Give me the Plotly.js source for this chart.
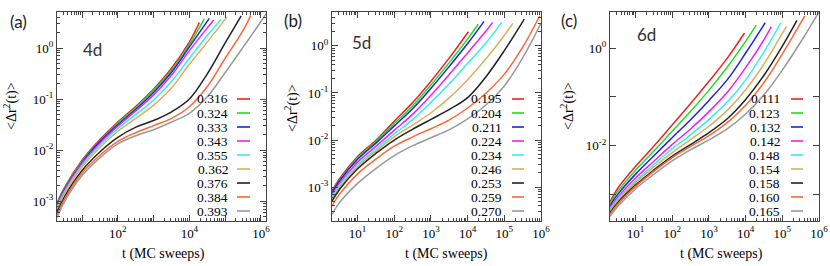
<!DOCTYPE html>
<html><head><meta charset="utf-8">
<script src="https://cdn.plot.ly/plotly-3.0.1.min.js"></script>
<style>html,body{margin:0;padding:0;background:#fff}#chart{width:830px;height:266px}</style>
</head><body><div id="chart"></div>
<script>
// time grid (MC sweeps); each series uses the first (n-1) grid points plus its own end time
const tGrid = [2, 3.2, 10, 32, 100, 320, 1000, 3200, 1e4, 3.2e4, 1e5, 3.2e5, 1e6];
const colors = ['#ee2222','#22dd22','#2222dd','#ee22ee','#33eeee','#d8b060','#222222','#ff6633','#999999'];

// ---------- panel (a) 4d ----------
const labels_a = ['0.316','0.324','0.333','0.343','0.355','0.362','0.376','0.384','0.393'];
const tEnd_a = [1.9e4, 2.6e4, 3.6e4, 4.8e4, 7.6e4, 1.1e5, 2.8e5, 5.2e5, 1.4e6];
const msd_a_0316 = [9.1e-4, 1.82e-3, 6.3e-3, 0.0162, 0.0355, 0.0724, 0.158, 0.407, 1.32, 3.16];
const msd_a_0324 = [8.7e-4, 1.74e-3, 6.03e-3, 0.0155, 0.0339, 0.0676, 0.148, 0.372, 1.17, 3.72];
const msd_a_0333 = [8.3e-4, 1.66e-3, 5.75e-3, 0.0148, 0.0316, 0.0631, 0.135, 0.339, 1.05, 3.8];
const msd_a_0343 = [7.9e-4, 1.58e-3, 5.5e-3, 0.0138, 0.0295, 0.0589, 0.12, 0.295, 0.891, 2.51, 3.55];
const msd_a_0355 = [7.6e-4, 1.48e-3, 5.0e-3, 0.0126, 0.0263, 0.0501, 0.0955, 0.224, 0.631, 1.78, 3.63];
const msd_a_0362 = [7.1e-4, 1.38e-3, 4.68e-3, 0.0112, 0.0234, 0.0417, 0.0759, 0.166, 0.479, 1.32, 3.98];
const msd_a_0376 = [6.0e-4, 1.2e-3, 3.98e-3, 9.3e-3, 0.0178, 0.0282, 0.038, 0.0562, 0.1, 0.316, 1.26, 4.27];
const msd_a_0384 = [5.25e-4, 1.07e-3, 3.55e-3, 7.94e-3, 0.0148, 0.0219, 0.0302, 0.0417, 0.0708, 0.178, 0.631, 2.24, 4.37];
const msd_a_0393 = [4.79e-4, 9.55e-4, 3.16e-3, 7.08e-3, 0.0132, 0.0191, 0.0251, 0.0355, 0.0525, 0.112, 0.331, 1.05, 3.31, 4.79];

// ---------- panel (b) 5d ----------
const labels_b = ['0.195','0.204','0.211','0.224','0.234','0.246','0.253','0.259','0.270'];
const tEnd_b = [1.05e4, 1.95e4, 2.8e4, 4.8e4, 8.5e4, 1.7e5, 3.5e5, 9.3e5, 1e6];
const msd_b_0195 = [8.32e-4, 1.51e-3, 4.47e-3, 0.01, 0.0251, 0.0631, 0.178, 0.562, 2.0];
const msd_b_0204 = [7.94e-4, 1.41e-3, 4.17e-3, 9.33e-3, 0.0224, 0.0537, 0.148, 0.447, 1.41, 2.88];
const msd_b_0211 = [7.59e-4, 1.35e-3, 3.89e-3, 8.71e-3, 0.02, 0.0468, 0.126, 0.372, 1.12, 3.31];
const msd_b_0224 = [6.76e-4, 1.2e-3, 3.39e-3, 7.41e-3, 0.0162, 0.0355, 0.0891, 0.251, 0.708, 2.09, 3.16];
const msd_b_0234 = [6.17e-4, 1.1e-3, 3.02e-3, 6.46e-3, 0.0135, 0.0275, 0.0631, 0.158, 0.427, 1.17, 3.16];
const msd_b_0246 = [5.62e-4, 1.0e-3, 2.75e-3, 5.89e-3, 0.0117, 0.0209, 0.038, 0.0794, 0.191, 0.537, 1.66, 3.02];
const msd_b_0253 = [5.01e-4, 8.91e-4, 2.45e-3, 5.25e-3, 0.01, 0.017, 0.0275, 0.0447, 0.0794, 0.224, 0.794, 3.72];
const msd_b_0259 = [3.98e-4, 7.08e-4, 1.91e-3, 3.98e-3, 7.41e-3, 0.0117, 0.0174, 0.0269, 0.0479, 0.1, 0.251, 0.955, 4.37];
const msd_b_0270 = [2.63e-4, 4.68e-4, 1.2e-3, 2.51e-3, 4.68e-3, 7.59e-3, 0.0112, 0.0166, 0.0282, 0.0562, 0.141, 0.562, 3.0];

// ---------- panel (c) 6d ----------
const labels_c = ['0.111','0.123','0.132','0.142','0.148','0.154','0.158','0.160','0.165'];
const tEnd_c = [9.3e3, 1.95e4, 3.4e4, 5e4, 9.1e4, 1.3e5, 2.5e5, 4.1e5, 1e6];
const msd_c_0111 = [7.08e-4, 1.32e-3, 3.8e-3, 0.01, 0.0269, 0.0741, 0.209, 0.631, 2.04];
const msd_c_0123 = [6.46e-4, 1.15e-3, 3.16e-3, 7.94e-3, 0.02, 0.0513, 0.138, 0.417, 1.38, 2.95];
const msd_c_0132 = [5.89e-4, 1.0e-3, 2.63e-3, 6.31e-3, 0.0148, 0.0347, 0.0851, 0.229, 0.794, 3.31];
const msd_c_0142 = [5.37e-4, 8.71e-4, 2.19e-3, 4.9e-3, 0.0107, 0.0224, 0.0501, 0.126, 0.398, 1.51, 2.75];
const msd_c_0148 = [5.01e-4, 7.94e-4, 1.91e-3, 4.17e-3, 8.71e-3, 0.017, 0.0347, 0.0794, 0.224, 0.851, 3.31];
const msd_c_0154 = [4.68e-4, 7.41e-4, 1.78e-3, 3.72e-3, 7.24e-3, 0.0135, 0.0251, 0.0537, 0.141, 0.479, 2.0, 2.75];
const msd_c_0158 = [4.27e-4, 6.76e-4, 1.58e-3, 3.24e-3, 6.17e-3, 0.0107, 0.0186, 0.0363, 0.0891, 0.282, 1.1, 3.72];
const msd_c_0160 = [3.98e-4, 6.31e-4, 1.48e-3, 3.02e-3, 5.75e-3, 9.77e-3, 0.0162, 0.0302, 0.0676, 0.2, 0.759, 4.57];
const msd_c_0165 = [3.55e-4, 5.62e-4, 1.32e-3, 2.63e-3, 4.9e-3, 8.32e-3, 0.0132, 0.0224, 0.0447, 0.112, 0.355, 1.35, 5.5];

// tick labels
const xTickVals = [10, 100, 1e3, 1e4, 1e5, 1e6];
const xTickText_a = ['', '10<sup>2</sup>', '', '10<sup>4</sup>', '', '10<sup>6</sup>'];
const xTickText_bc = ['10<sup>1</sup>', '10<sup>2</sup>', '10<sup>3</sup>', '10<sup>4</sup>', '10<sup>5</sup>', '10<sup>6</sup>'];
const yTickVals = [1e-3, 1e-2, 1e-1, 1];
const yTickText_ab = ['10<sup>-3</sup>', '10<sup>-2</sup>', '10<sup>-1</sup>', '10<sup>0</sup>'];
const yTickText_c = ['', '10<sup>-2</sup>', '', '10<sup>0</sup>'];

const panels = [
  {series:[msd_a_0316,msd_a_0324,msd_a_0333,msd_a_0343,msd_a_0355,msd_a_0362,msd_a_0376,msd_a_0384,msd_a_0393], ends:tEnd_a, labels:labels_a},
  {series:[msd_b_0195,msd_b_0204,msd_b_0211,msd_b_0224,msd_b_0234,msd_b_0246,msd_b_0253,msd_b_0259,msd_b_0270], ends:tEnd_b, labels:labels_b},
  {series:[msd_c_0111,msd_c_0123,msd_c_0132,msd_c_0142,msd_c_0148,msd_c_0154,msd_c_0158,msd_c_0160,msd_c_0165], ends:tEnd_c, labels:labels_c}
];

const W = 830, H = 266;
const px = v => v / W, py = v => 1 - v / H;

const traces = [];
panels.forEach((p, k) => {
  const xa = k === 0 ? 'x' : 'x' + (k + 1), ya = k === 0 ? 'y' : 'y' + (k + 1);
  p.series.forEach((ys, i) => {
    const xs = tGrid.slice(0, ys.length - 1).concat([p.ends[i]]);
    traces.push({x: xs, y: ys, xaxis: xa, yaxis: ya, type: 'scatter', mode: 'lines',
      line: {color: colors[i], width: 1.5, shape: 'spline', smoothing: 1}, showlegend: false, hoverinfo: 'skip'});
  });
});

function minorVals(lo, hi) {
  const out = [];
  for (let d = lo; d <= hi; d++) for (let m = 2; m <= 9; m++) out.push(m * Math.pow(10, d));
  return out;
}
const axCommon = {type: 'log', showline: true, linecolor: '#444', linewidth: 1, mirror: 'allticks',
  ticks: 'inside', ticklen: 6, tickwidth: 1, tickcolor: '#444', showgrid: false, zeroline: false,
  tickmode: 'array', tickfont: {family: 'Liberation Serif, serif', size: 13, color: '#000'}};
function xAxis(dom, range, txt) {
  return Object.assign({}, axCommon, {domain: dom, range: range, tickvals: xTickVals, ticktext: txt,
    minor: {tickmode: 'array', tickvals: minorVals(0, 6), ticks: 'inside', ticklen: 3, tickcolor: '#444', showgrid: false}});
}
function yAxis(dom, range, txt, anchor, minor) {
  const o = Object.assign({}, axCommon, {domain: dom, range: range, tickvals: yTickVals, ticktext: txt, anchor: anchor});
  if (minor) o.minor = {tickmode: 'array', tickvals: minorVals(-4, 0), ticks: 'inside', ticklen: 3, tickcolor: '#444', showgrid: false};
  return o;
}
const yDom = [1 - 221 / H, 1 - 12 / H];
const layout = {
  width: W, height: H, margin: {l: 0, r: 0, t: 0, b: 0}, paper_bgcolor: '#fff', plot_bgcolor: '#fff',
  xaxis: Object.assign(xAxis([57 / W, 266 / W], [Math.log10(2), 6.14], xTickText_a), {anchor: 'y'}),
  yaxis: yAxis(yDom, [-3.39, 0.706], yTickText_ab, 'x', true),
  xaxis2: Object.assign(xAxis([332 / W, 541 / W], [Math.log10(2), 6], xTickText_bc), {anchor: 'y2'}),
  yaxis2: yAxis(yDom, [-3.72, 0.72], yTickText_ab, 'x2', true),
  xaxis3: Object.assign(xAxis([610 / W, 819 / W], [Math.log10(2), 6], xTickText_bc), {anchor: 'y3'}),
  yaxis3: yAxis(yDom, [-3.54, 0.74], yTickText_c, 'x3', false),
  annotations: [], shapes: []
};

const serif = 'Liberation Serif, serif';
const sans = 'Lato, DejaVu Sans, sans-serif';
const ann = (x, y, text, opts) => layout.annotations.push(Object.assign({xref: 'paper', yref: 'paper', x: px(x), y: py(y),
  text: text, showarrow: false, xanchor: 'center', yanchor: 'middle', font: {family: serif, size: 14, color: '#000'}}, opts || {}));

// panel tags, dimension labels, axis titles
const panelTag = [['(a)', 18, 21], ['(b)', 293, 20], ['(c)', 569, 20]];
const dimTag = [['4d', 92, 49], ['5d', 361, 42], ['6d', 646, 35]];
const xTitleX = [163, 446, 721];
const yTitleX = [10, 291, 567], yTitleY = [106, 108, 106];
for (let k = 0; k < 3; k++) {
  ann(panelTag[k][1], panelTag[k][2], panelTag[k][0], {font: {family: sans, size: 17, color: '#222'}});
  ann(dimTag[k][1], dimTag[k][2], dimTag[k][0], {font: {family: sans, size: 17, color: '#333'}});
  ann(xTitleX[k], 254, 't (MC sweeps)', {font: {family: serif, size: 14, color: '#000'}});
  ann(yTitleX[k], yTitleY[k], '&lt;Δr<sup>2</sup>(t)&gt;', {textangle: -90, font: {family: serif, size: 14, color: '#000'}});
}

// legends (text left of sample line)
const legTextRight = [229.5, 504, 782];
const legLine = [[237, 250], [512, 524], [791, 803]];
const legRow0 = 99, legStep = 14.0;
panels.forEach((p, k) => {
  p.labels.forEach((lab, i) => {
    const yy = legRow0 + i * legStep;
    ann(legTextRight[k], yy, lab, {xanchor: 'right', font: {family: serif, size: 13.5, color: '#000'}});
    layout.shapes.push({type: 'line', xref: 'paper', yref: 'paper', x0: px(legLine[k][0]), x1: px(legLine[k][1]),
      y0: py(yy), y1: py(yy), line: {color: colors[i], width: 1.6}});
  });
});

Plotly.newPlot('chart', traces, layout, {staticPlot: true, displayModeBar: false});
</script></body></html>
